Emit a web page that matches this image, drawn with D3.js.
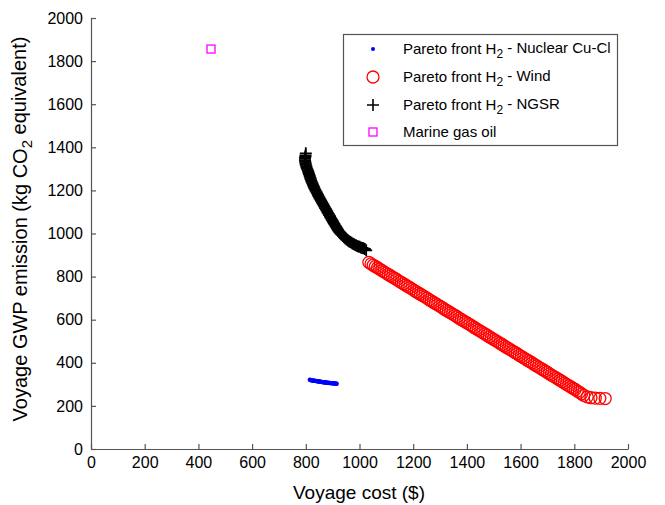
<!DOCTYPE html>
<html><head><meta charset="utf-8">
<script src="https://cdn.jsdelivr.net/npm/d3@7"></script>
<style>
body{margin:0;background:#fff;}
svg{display:block;font-family:"Liberation Sans",Arial,sans-serif;}
</style></head>
<body><svg id="c" width="665" height="505"></svg>
<script>
const xTicks = [0,200,400,600,800,1000,1200,1400,1600,1800,2000];
const yTicks = [0,200,400,600,800,1000,1200,1400,1600,1800,2000];

const nuclearCost = [815,818,820,823,825,828,830,833,835,838,840,843,845,848,850,853,855,858,860,863,865,868,870,873,875,878,880,883,885,888,890,893,895,898,900,903,905,908,910,913,915];
const nuclearGwp  = [321,320,319,318.5,318,317.5,317,316.5,316,315.5,315,314.5,314,313.5,313,312.5,312,311.5,311,310.5,310,309.5,309,308.7,308.5,308.2,308,307.5,307,306.5,306,305.7,305.5,305.2,305,304.7,304.5,304.2,304,303.5,303];

const windCost = [1035,1043,1051,1059,1067,1075,1083,1091,1099,1107,1115,1123,1131,1139,1147,1155,1163,1171,1179,1187,1195,1203,1211,1219,1227,1235,1243,1251,1259,1267,1275,1283,1291,1299,1307,1315,1323,1331,1339,1347,1355,1363,1371,1379,1387,1395,1403,1411,1419,1427,1435,1443,1451,1459,1467,1475,1483,1491,1499,1507,1515,1523,1531,1539,1547,1555,1563,1571,1579,1587,1595,1603,1611,1619,1627,1635,1643,1651,1659,1667,1675,1683,1691,1699,1707,1715,1723,1731,1739,1747,1755,1763,1771,1779,1787,1795,1803,1811,1819,1827,1835,1848,1862,1878,1895,1915];
const windGwp  = [866,859,853,847,841,835,828,822,816,810,804,798,792,786,779,773,767,761,755,749,743,736,730,724,718,712,706,700,693,687,681,675,669,663,657,650,644,638,632,626,620,614,607,601,595,589,583,577,571,564,558,552,546,540,534,528,521,515,509,503,497,491,485,478,472,466,460,454,448,442,435,429,423,417,411,405,399,392,386,380,374,368,362,356,349,343,337,331,325,319,313,306,300,294,288,282,276,269,263,256,249,242,238,236,235,234];

const ngsrCost = [800,799,798,797,797,798,799,800,802,803,805,807,809,810,812,814,815,817,818,820,822,824,826,828,830,832,835,837,840,842,845,847,850,852,855,857,860,862,865,867,870,872,875,877,880,882,885,887,890,892,895,897,900,902,905,907,910,912,915,917,920,922,925,927,930,933,936,939,942,945,948,951,955,958,962,966,970,974,978,982,987,991,996,1000,1005,1010,1015,1020,1025];
const ngsrGwp  = [1372,1362,1355,1348,1340,1333,1326,1319,1312,1306,1300,1294,1288,1282,1276,1270,1264,1258,1252,1246,1240,1234,1228,1222,1216,1210,1204,1198,1192,1186,1180,1174,1168,1162,1157,1151,1146,1140,1135,1129,1124,1118,1113,1107,1102,1096,1091,1085,1080,1074,1069,1063,1058,1052,1047,1042,1037,1032,1027,1022,1017,1012,1008,1004,1000,996,992,988,984,980,977,973,970,966,963,960,957,954,951,948,945,942,940,938,935,933,931,928,922];

const marineCost = [447];
const marineGwp  = [1856];

const legendLabels = ["Nuclear Cu-Cl","Wind","NGSR"];

const svg = d3.select("#c");
const x = d3.scaleLinear().domain([0,2000]).range([91,628]);
const y = d3.scaleLinear().domain([0,2000]).range([449,18]);
const axisColor = "#555";

const gx = svg.append("g").attr("transform","translate(0,449)")
  .call(d3.axisBottom(x).tickValues(xTicks).tickSizeInner(-5).tickSizeOuter(0).tickPadding(8).tickFormat(d3.format("d")));
const gy = svg.append("g").attr("transform","translate(91,0)")
  .call(d3.axisLeft(y).tickValues(yTicks).tickSizeInner(-5).tickSizeOuter(0).tickPadding(8).tickFormat(d3.format("d")));
[gx,gy].forEach(g=>{
  g.selectAll("path,line").attr("stroke",axisColor).attr("stroke-width",1.2);
  g.selectAll("text").attr("fill","#000").style("font-size","16px").style("font-family","Liberation Sans, Arial, sans-serif");
});

// Axis titles
svg.append("text").attr("x",359).attr("y",499).attr("text-anchor","middle")
  .style("font-size","19px").text("Voyage cost ($)");
const yt = svg.append("text").attr("transform","translate(27,229) rotate(-90)").attr("text-anchor","middle").style("font-size","20px");
yt.append("tspan").text("Voyage GWP emission (kg CO");
yt.append("tspan").attr("dy","0.3em").style("font-size","15px").text("2");
yt.append("tspan").attr("dy","-0.3em").text(" equivalent)");

const plot = svg.append("g");

// Wind circles
plot.selectAll("circle.wind").data(windCost.map((c,i)=>[c,windGwp[i]])).join("circle")
  .attr("class","wind").attr("cx",d=>x(d[0])).attr("cy",d=>y(d[1])).attr("r",6)
  .attr("fill","none").attr("stroke","#ff0000").attr("stroke-width",1.3);

// NGSR plus
const plusPath = (cx,cy,s)=>`M${cx-s},${cy}H${cx+s}M${cx},${cy-s}V${cy+s}`;
plot.selectAll("path.ngsr").data(ngsrCost.map((c,i)=>[c,ngsrGwp[i]])).join("path")
  .attr("class","ngsr").attr("d",d=>plusPath(x(d[0]),y(d[1]),6))
  .attr("stroke","#000").attr("stroke-width",1.8).attr("fill","none");

// Nuclear dots
plot.selectAll("circle.nuc").data(nuclearCost.map((c,i)=>[c,nuclearGwp[i]])).join("circle")
  .attr("class","nuc").attr("cx",d=>x(d[0])).attr("cy",d=>y(d[1])).attr("r",2.2)
  .attr("fill","#0000ff");

// Marine square
plot.selectAll("rect.mar").data(marineCost.map((c,i)=>[c,marineGwp[i]])).join("rect")
  .attr("class","mar").attr("x",d=>x(d[0])-4).attr("y",d=>y(d[1])-4).attr("width",8).attr("height",8)
  .attr("fill","none").attr("stroke","#ff00ff").attr("stroke-width",1.3);

// Legend
const lg = svg.append("g");
lg.append("rect").attr("x",343.5).attr("y",34.5).attr("width",274).attr("height",111)
  .attr("fill","#fff").attr("stroke","#555").attr("stroke-width",1.2);
const rows = [49,77,105,132];
const mx = 373, tx = 403;
lg.append("circle").attr("cx",mx).attr("cy",rows[0]).attr("r",2).attr("fill","#0000ff");
lg.append("circle").attr("cx",mx).attr("cy",rows[1]).attr("r",6).attr("fill","none").attr("stroke","#ff0000").attr("stroke-width",1.3);
lg.append("path").attr("d",plusPath(mx,rows[2],6)).attr("stroke","#000").attr("stroke-width",1.6);
lg.append("rect").attr("x",mx-4).attr("y",rows[3]-4).attr("width",8).attr("height",8).attr("fill","none").attr("stroke","#ff00ff").attr("stroke-width",1.3);
legendLabels.forEach((lab,i)=>{
  const t = lg.append("text").attr("x",tx).attr("y",rows[i]+5).style("font-size","15px");
  t.append("tspan").text("Pareto front H");
  t.append("tspan").attr("dy","0.3em").style("font-size","12px").text("2");
  t.append("tspan").attr("dy","-0.3em").text(" - "+lab);
});
lg.append("text").attr("x",tx).attr("y",rows[3]+5).style("font-size","15px").text("Marine gas oil");
</script></body></html>
